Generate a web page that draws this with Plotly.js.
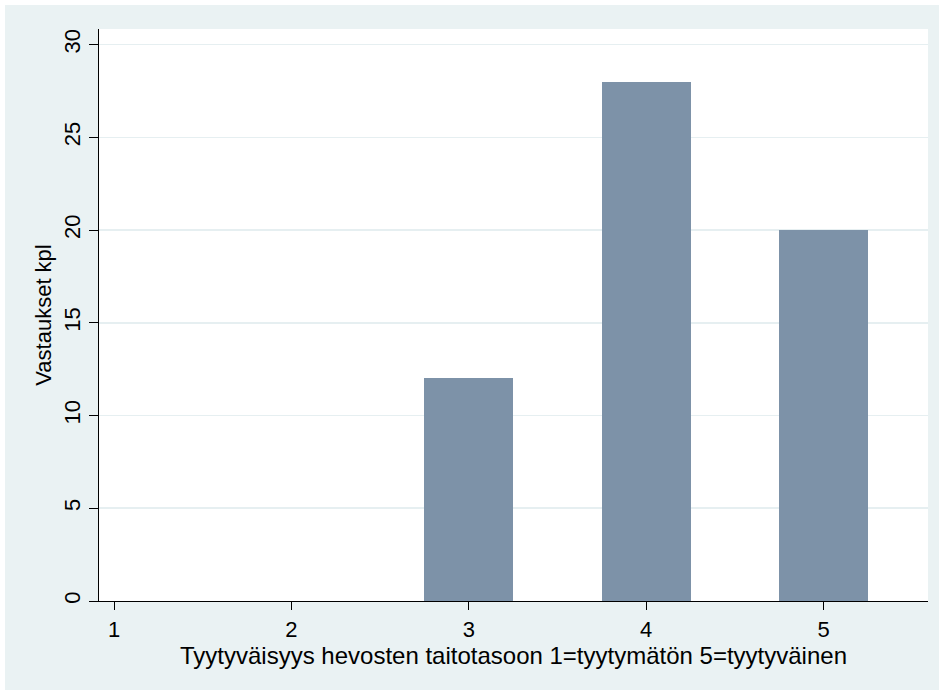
<!DOCTYPE html>
<html>
<head>
<meta charset="utf-8">
<script src="https://cdn.plot.ly/plotly-3.0.1.min.js"></script>
<style>
html,body{margin:0;padding:0;background:#ffffff;width:939px;height:690px;overflow:hidden;}
#chart{position:absolute;left:5px;top:5px;width:934px;height:685px;}
</style>
</head>
<body>
<div id="chart"></div>
<script>
const categories = [1, 2, 3, 4, 5];
const counts = [0, 0, 12, 28, 20];
const yTicks = [0, 5, 10, 15, 20, 25, 30];
const xTitle = "Tyytyväisyys hevosten taitotasoon 1=tyytymätön 5=tyytyväinen";
const yTitle = "Vastaukset kpl";

const font = "Liberation Sans, Arial, sans-serif";

const trace = {
  type: 'bar',
  x: categories,
  y: counts,
  width: 0.5,
  marker: {color: '#7D92A8', line: {width: 0}},
  hoverinfo: 'x+y'
};

const layout = {
  width: 934,
  height: 685,
  paper_bgcolor: '#EAF2F3',
  plot_bgcolor: '#ffffff',
  margin: {l: 94, r: 11, t: 24, b: 89},
  showlegend: false,
  bargap: 0,
  xaxis: {
    range: [0.915, 5.589],
    tickvals: categories,
    ticktext: categories.map(String),
    showgrid: false,
    zeroline: false,
    showline: true,
    linecolor: '#000000',
    linewidth: 1.2,
    ticks: 'outside',
    ticklen: 8,
    tickwidth: 1,
    tickcolor: '#000000',
    tickfont: {family: font, size: 22, color: '#000000'},
    title: {text: xTitle, font: {family: font, size: 24, color: '#000000'}, standoff: 0},
    fixedrange: true
  },
  yaxis: {
    range: [0, 30.84],
    tickvals: yTicks,
    ticktext: yTicks.map(String),
    tickangle: -90,
    showgrid: true,
    gridcolor: '#E6EFF1',
    gridwidth: 1.6,
    zeroline: false,
    showline: true,
    linecolor: '#000000',
    linewidth: 1.2,
    ticks: 'outside',
    ticklen: 9,
    tickwidth: 1,
    tickcolor: '#000000',
    tickfont: {family: font, size: 22, color: '#000000'},
    title: {text: yTitle, font: {family: font, size: 22, color: '#000000'}, standoff: 2},
    fixedrange: true
  }
};

Plotly.newPlot('chart', [trace], layout, {displayModeBar: false, staticPlot: true});
</script>
</body>
</html>
